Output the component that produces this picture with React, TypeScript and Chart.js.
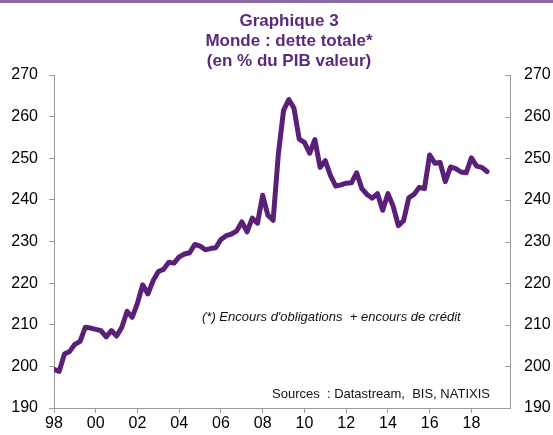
import React, { useEffect, useRef } from "react";
import { Chart, registerables } from "chart.js";

Chart.register(...registerables);

// ---- Data (quarterly, 1998Q1 .. 2018Q4) ----
const startYear = 1998;
const debtRatio = [
  199.3, 198.8, 203.0, 203.6, 205.3, 206.0, 209.4, 209.2,
  208.9, 208.6, 207.1, 208.6, 207.3, 209.4, 213.2, 211.8,
  215.2, 219.6, 217.4, 220.6, 222.8, 223.3, 225.0, 224.8,
  226.3, 227.0, 227.3, 229.3, 228.9, 228.0, 228.3, 228.5,
  230.5, 231.4, 231.8, 232.5, 234.7, 232.3, 235.6, 234.4,
  241.1, 236.3, 235.1, 251.0, 261.5, 264.1, 262.0, 254.6,
  253.8, 251.2, 254.5, 247.8, 249.4, 245.8, 243.3, 243.6,
  244.0, 244.1, 246.5, 242.7, 241.3, 240.4, 241.5, 237.5,
  241.5, 238.5, 233.8, 235.0, 240.5, 241.3, 243.0, 242.7,
  250.8, 248.8, 249.0, 244.4, 247.9, 247.5, 246.7, 246.5,
  250.1, 248.1, 247.8, 246.8,
];
const xTickYears = [1998, 2000, 2002, 2004, 2006, 2008, 2010, 2012, 2014, 2016, 2018];
const yMin = 190;
const yMax = 270;
const yStep = 10;
const xMin = 1998;
const xMax = 2019.85;

const titleLines = ["Graphique 3", "Monde : dette totale*", "(en % du PIB valeur)"];
const noteText = "(*) Encours d'obligations  + encours de crédit";
const sourceText = "Sources  : Datastream,  BIS, NATIXIS";

const PURPLE = "#5a1f79";
const TITLE_PURPLE = "#5b2a80";
const AXIS_GREY = "#9a9a9a";
const FONT = "'Liberation Sans', Arial, sans-serif";

const overlayPlugin = {
  id: "overlay",
  afterDraw(chart: any) {
    const ctx = chart.ctx;
    const area = chart.chartArea;
    ctx.save();
    // top border line
    ctx.fillStyle = "#8c6aa6";
    ctx.fillRect(0, 0, chart.width, 3);

    // title
    ctx.fillStyle = TITLE_PURPLE;
    ctx.font = `bold 17px ${FONT}`;
    ctx.textAlign = "center";
    ctx.textBaseline = "middle";
    titleLines.forEach((line, i) => {
      ctx.fillText(line, 289, 21 + i * 20);
    });

    // notes
    ctx.fillStyle = "#111";
    ctx.font = `italic 13px ${FONT}`;
    ctx.textAlign = "left";
    ctx.fillText(noteText, 202, 317);
    ctx.font = `13px ${FONT}`;
    ctx.fillText(sourceText, 272, 394);

    // inner ticks of right axis
    const y2 = chart.scales.y2;
    ctx.strokeStyle = AXIS_GREY;
    ctx.lineWidth = 1;
    y2.ticks.forEach((t: any) => {
      const py = Math.round(y2.getPixelForValue(t.value)) + 0.5;
      ctx.beginPath();
      ctx.moveTo(area.right - 5, py);
      ctx.lineTo(area.right, py);
      ctx.stroke();
    });
    ctx.restore();
  },
};

export default function App() {
  const canvasRef = useRef<HTMLCanvasElement | null>(null);

  useEffect(() => {
    if (!canvasRef.current) return;
    const points = debtRatio.map((v, i) => ({ x: startYear + i / 4, y: v }));
    const chart = new Chart(canvasRef.current, {
      type: "line",
      data: {
        datasets: [
          {
            data: points,
            borderColor: PURPLE,
            borderWidth: 5,
            pointRadius: 0,
            tension: 0,
            borderJoinStyle: "round",
            borderCapStyle: "round",
            fill: false,
          },
        ],
      },
      options: {
        animation: false,
        responsive: false,
        maintainAspectRatio: false,
        layout: { padding: { top: 75, left: 0, right: 0, bottom: 0 } },
        plugins: {
          legend: { display: false },
          title: { display: false },
          tooltip: { enabled: false },
        },
        scales: {
          x: {
            type: "linear",
            min: xMin,
            max: xMax,
            afterBuildTicks: (scale: any) => {
              scale.ticks = xTickYears.map((v) => ({ value: v }));
            },
            afterFit: (scale: any) => {
              scale.height = 27;
            },
            grid: {
              drawOnChartArea: false,
              drawTicks: true,
              tickLength: 5,
              color: AXIS_GREY,
            },
            border: { display: true, color: AXIS_GREY },
            ticks: {
              color: "#000",
              font: { family: FONT, size: 16 },
              padding: 1,
              maxRotation: 0,
              autoSkip: false,
              callback: (v: any) => String(Math.round(v) % 100).padStart(2, "0"),
            },
          },
          y: {
            type: "linear",
            position: "left",
            min: yMin,
            max: yMax,
            afterFit: (scale: any) => {
              scale.width = 54;
            },
            grid: {
              drawOnChartArea: false,
              drawTicks: true,
              tickLength: 5,
              color: AXIS_GREY,
            },
            border: { display: true, color: AXIS_GREY },
            ticks: {
              stepSize: yStep,
              color: "#000",
              font: { family: FONT, size: 16 },
              padding: 11,
            },
          },
          y2: {
            type: "linear",
            position: "right",
            min: yMin,
            max: yMax,
            afterFit: (scale: any) => {
              scale.width = 43;
            },
            grid: {
              drawOnChartArea: false,
              drawTicks: false,
              color: AXIS_GREY,
            },
            border: { display: true, color: AXIS_GREY },
            ticks: {
              stepSize: yStep,
              color: "#000",
              font: { family: FONT, size: 16 },
              padding: 14,
            },
          },
        },
      },
      plugins: [overlayPlugin],
    } as any);
    return () => chart.destroy();
  }, []);

  return (
    <div style={{ position: "absolute", left: 0, top: 0, width: 553, height: 435, background: "#fff" }}>
      <canvas ref={canvasRef} width={553} height={435} style={{ display: "block" }} />
    </div>
  );
}
